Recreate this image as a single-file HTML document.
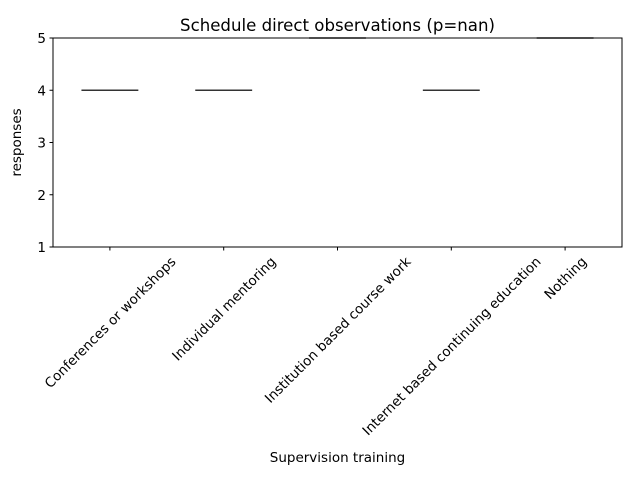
<!DOCTYPE html>
<html><head><meta charset="utf-8"><style>
body{margin:0;background:#fff;}
svg text{font-family:"DejaVu Sans","Liberation Sans",sans-serif;fill:#000;}
</style></head><body>
<svg id="chart" width="640" height="480" viewBox="0 0 640 480">
<rect width="640" height="480" fill="#fff"/>
<text x="337.5" y="31" font-size="16.6" text-anchor="middle">Schedule direct observations (p=nan)</text>
<g id="marks"></g>
<g id="axes"></g>
<text x="337.5" y="462" font-size="13.5" text-anchor="middle">Supervision training</text>
<text transform="translate(21,142.5) rotate(-90)" font-size="13.5" text-anchor="middle">responses</text>
</svg>
<script>
const categories=["Conferences or workshops","Individual mentoring","Institution based course work","Internet based continuing education","Nothing"];
const values=[4,4,5,4,5];
const yTicks=[1,2,3,4,5];
const L=53,R=622,T=38,B=247,yMin=1,yMax=5;
const NS="http://www.w3.org/2000/svg";
const xs=i=>L+(R-L)/categories.length*(i+0.5);
const ys=v=>B-(v-yMin)/(yMax-yMin)*(B-T);
const bw=(R-L)/categories.length*0.5;
function mk(t,a,p){const e=document.createElementNS(NS,t);for(const k in a)e.setAttribute(k,a[k]);p.appendChild(e);return e;}
const marks=document.getElementById('marks'),axes=document.getElementById('axes');
values.forEach((v,i)=>{
  const l=mk('line',{x1:xs(i)-bw/2,x2:xs(i)+bw/2,y1:ys(v),y2:ys(v),stroke:'#333','stroke-width':1.5},marks);
  
  
});
const frame=mk('rect',{x:L,y:T,width:R-L,height:B-T,fill:'none',stroke:'#000','stroke-width':1},axes);


yTicks.forEach(t=>{
  mk('line',{x1:L-3.5,x2:L,y1:ys(t),y2:ys(t),stroke:'#000'},axes);
  const tx=mk('text',{x:L-7,y:ys(t)+5,'font-size':13.5,'text-anchor':'end'},axes);
  tx.textContent=t;
  
  
});
categories.forEach((c,i)=>{
  const x=xs(i);
  mk('line',{x1:x,x2:x,y1:B,y2:B+3.5,stroke:'#000'},axes);
  const tx=mk('text',{x:0,y:5,'font-size':13.5,'text-anchor':'middle'},axes);
  tx.textContent=c;
  const w=tx.getComputedTextLength(), h=14;
  const bh=(w+h)*0.7071;
  tx.setAttribute('transform',`translate(${x},${B+7+bh/2}) rotate(-45)`);
  
  
});
</script>
</body></html>
